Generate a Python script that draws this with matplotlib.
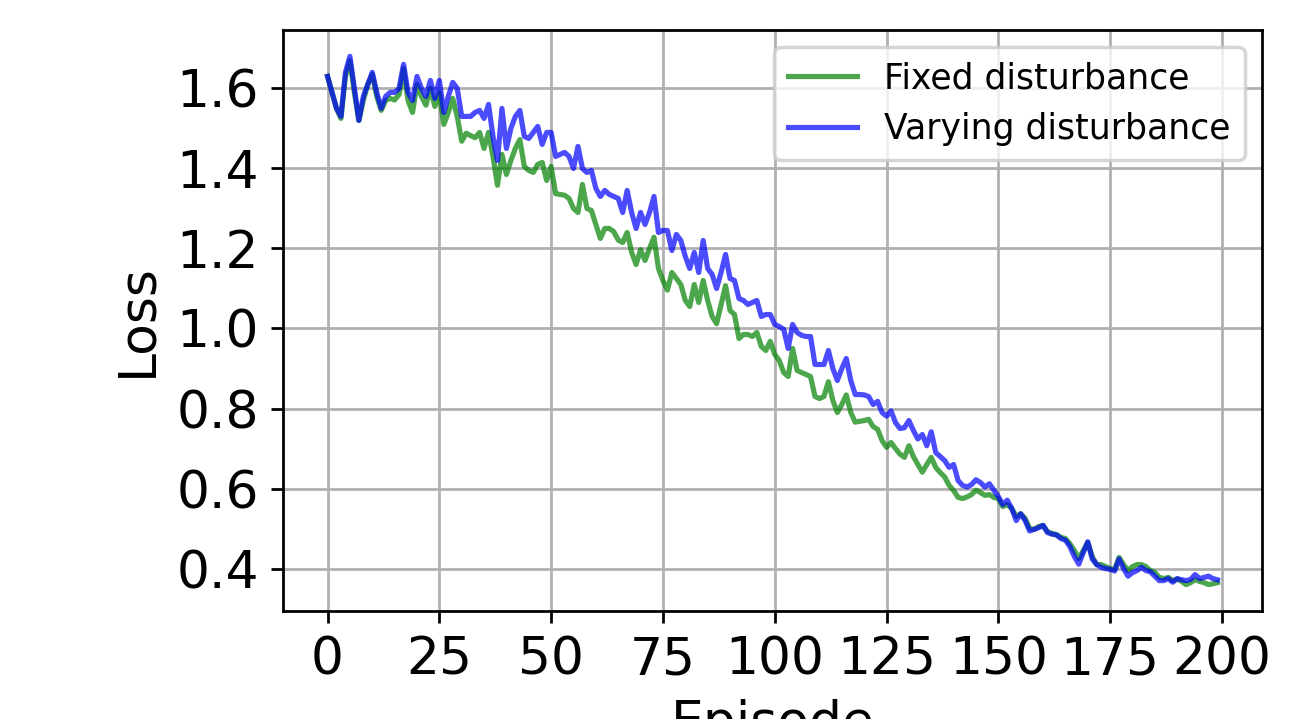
#Curvas de pérdida por episodio con perturbación fija y variable.
import numpy as np
import matplotlib
matplotlib.use("Agg")
import matplotlib.pyplot as plt

# Pérdida por episodio (perturbación fija)
loss_fixed = [
    1.63, 1.59, 1.55, 1.525, 1.63, 1.67, 1.59, 1.52, 1.57, 1.61,
    1.635, 1.58, 1.545, 1.57, 1.575, 1.571, 1.585, 1.65, 1.57, 1.54,
    1.61, 1.58, 1.558, 1.60, 1.555, 1.59, 1.51, 1.54, 1.575, 1.53,
    1.468, 1.488, 1.482, 1.477, 1.49, 1.45, 1.49, 1.43, 1.358, 1.435,
    1.385, 1.42, 1.45, 1.472, 1.405, 1.395, 1.39, 1.41, 1.415, 1.37,
    1.405, 1.337, 1.335, 1.333, 1.325, 1.30, 1.29, 1.36, 1.30, 1.295,
    1.26, 1.225, 1.25, 1.25, 1.242, 1.221, 1.215, 1.24, 1.19, 1.16,
    1.197, 1.17, 1.20, 1.228, 1.15, 1.12, 1.096, 1.14, 1.125, 1.11,
    1.07, 1.055, 1.11, 1.065, 1.12, 1.07, 1.03, 1.012, 1.06, 1.107,
    1.045, 1.035, 0.975, 0.985, 0.985, 0.98, 0.99, 0.955, 0.945, 0.968,
    0.935, 0.92, 0.89, 0.88, 0.95, 0.895, 0.89, 0.885, 0.88, 0.83,
    0.825, 0.83, 0.867, 0.82, 0.79, 0.81, 0.834, 0.79, 0.766, 0.768,
    0.77, 0.773, 0.755, 0.748, 0.72, 0.703, 0.715, 0.70, 0.686, 0.678,
    0.707, 0.68, 0.66, 0.641, 0.66, 0.678, 0.653, 0.64, 0.629, 0.608,
    0.595, 0.578, 0.575, 0.579, 0.585, 0.596, 0.59, 0.583, 0.585, 0.578,
    0.575, 0.555, 0.56, 0.55, 0.53, 0.537, 0.525, 0.50, 0.498, 0.505,
    0.508, 0.492, 0.488, 0.485, 0.478, 0.475, 0.462, 0.445, 0.425, 0.445,
    0.465, 0.43, 0.41, 0.41, 0.405, 0.40, 0.398, 0.428, 0.41, 0.395,
    0.405, 0.41, 0.41, 0.405, 0.395, 0.39, 0.378, 0.375, 0.378, 0.37,
    0.374, 0.368, 0.36, 0.365, 0.372, 0.368, 0.365, 0.36, 0.362, 0.365,
]

# Pérdida por episodio (perturbación variable)
loss_varying = [
    1.63, 1.59, 1.55, 1.53, 1.64, 1.68, 1.60, 1.52, 1.58, 1.61,
    1.64, 1.59, 1.55, 1.58, 1.59, 1.59, 1.60, 1.66, 1.59, 1.57,
    1.63, 1.60, 1.58, 1.62, 1.575, 1.62, 1.54, 1.58, 1.615, 1.60,
    1.53, 1.53, 1.53, 1.54, 1.545, 1.525, 1.56, 1.48, 1.42, 1.55,
    1.45, 1.50, 1.53, 1.545, 1.48, 1.475, 1.49, 1.505, 1.46, 1.49,
    1.49, 1.43, 1.435, 1.44, 1.43, 1.40, 1.455, 1.40, 1.39, 1.395,
    1.35, 1.33, 1.345, 1.335, 1.33, 1.325, 1.29, 1.345, 1.29, 1.25,
    1.29, 1.26, 1.29, 1.33, 1.24, 1.245, 1.245, 1.195, 1.235, 1.22,
    1.18, 1.15, 1.19, 1.14, 1.22, 1.15, 1.135, 1.10, 1.14, 1.185,
    1.125, 1.12, 1.075, 1.07, 1.06, 1.065, 1.07, 1.03, 1.035, 1.035,
    1.01, 1.005, 0.998, 0.95, 1.01, 0.99, 0.983, 0.98, 0.98, 0.91,
    0.91, 0.91, 0.945, 0.90, 0.87, 0.90, 0.925, 0.87, 0.835, 0.835,
    0.834, 0.83, 0.81, 0.818, 0.79, 0.781, 0.794, 0.765, 0.75, 0.752,
    0.77, 0.745, 0.724, 0.735, 0.707, 0.742, 0.69, 0.68, 0.67, 0.653,
    0.66, 0.62, 0.608, 0.604, 0.61, 0.622, 0.615, 0.604, 0.612, 0.596,
    0.58, 0.56, 0.571, 0.55, 0.52, 0.537, 0.52, 0.494, 0.498, 0.502,
    0.508, 0.49, 0.486, 0.484, 0.475, 0.471, 0.455, 0.43, 0.411, 0.44,
    0.467, 0.424, 0.41, 0.403, 0.40, 0.398, 0.394, 0.424, 0.40, 0.381,
    0.39, 0.395, 0.403, 0.395, 0.392, 0.381, 0.37, 0.37, 0.375, 0.366,
    0.375, 0.372, 0.37, 0.373, 0.385, 0.375, 0.378, 0.381, 0.375, 0.372,
]

episodes = np.arange(len(loss_fixed))
x_ticks = [0, 25, 50, 75, 100, 125, 150, 175, 200]
y_ticks = [0.4, 0.6, 0.8, 1.0, 1.2, 1.4, 1.6]

def graficar_perdida():
    # Figura pequeña en pulgadas pero con dpi alto
    fig = plt.figure(figsize=(1308 / 249, 719 / 249), dpi=249)
    ax = fig.add_axes([0.2164, 0.1502, 0.7484, 0.8081])

    ax.plot(episodes, loss_fixed, color='green', alpha=0.7, label='Fixed disturbance')
    ax.plot(episodes, loss_varying, color='blue', alpha=0.7, label='Varying disturbance')

    ax.set_xlabel('Episode', fontsize=15)
    ax.set_ylabel('Loss', fontsize=15)
    ax.tick_params(axis='both', labelsize=15)
    ax.set_xticks(x_ticks)
    ax.set_yticks(y_ticks)
    ax.grid(True)
    ax.legend(loc='upper right')

    fig.savefig('out.png', dpi=249)

if __name__ == "__main__":
    graficar_perdida()
